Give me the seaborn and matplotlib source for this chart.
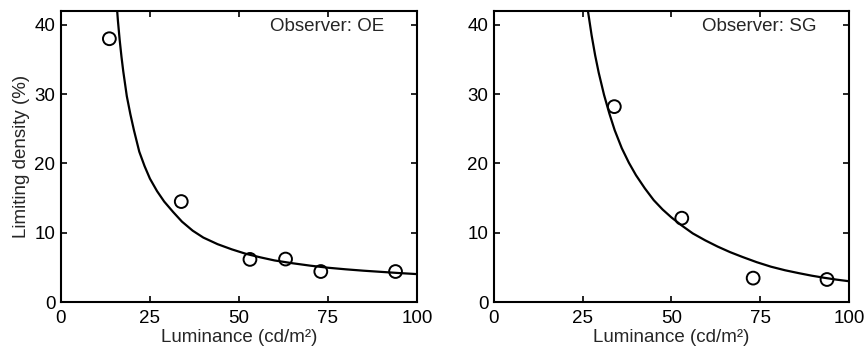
import matplotlib
matplotlib.use("Agg")
import matplotlib.pyplot as plt
import seaborn as sns
import pandas as pd

# Measured limiting density vs. luminance, one panel per observer
observers = ["OE", "SG"]

oe_luminance = [13.6, 33.8, 53.1, 63.1, 73.0, 94.0]
oe_density = [38.0, 14.5, 6.15, 6.2, 4.4, 4.4]

sg_luminance = [33.9, 52.9, 73.0, 93.8]
sg_density = [28.2, 12.1, 3.45, 3.25]

# Fitted curves
oe_fit_luminance = [15.5, 16.0, 16.5, 17.0, 17.5, 18.5, 19.5, 20.5, 22.0, 23.5,
                    25.0, 27.0, 29.0, 31.5, 34.0, 37.0, 40.0, 44.0, 48.0, 52.0,
                    56.0, 60.0, 65.0, 70.0, 75.0, 80.0, 85.0, 90.0, 95.0, 100.0]
oe_fit_density = [44.0, 40.6, 37.8, 35.4, 33.3, 29.7, 27.1, 24.8, 21.7, 19.6,
                  17.8, 16.0, 14.5, 13.0, 11.6, 10.3, 9.3, 8.35, 7.6, 6.95,
                  6.45, 6.0, 5.6, 5.25, 4.95, 4.72, 4.52, 4.35, 4.18, 4.03]

sg_fit_luminance = [26.0, 26.5, 27.5, 28.5, 29.5, 31.0, 32.5, 34.0, 36.0, 38.0,
                    40.0, 42.5, 45.0, 47.5, 50.0, 53.0, 56.0, 59.5, 63.0, 66.5,
                    70.0, 74.0, 78.0, 82.0, 86.0, 89.5, 93.0, 96.5, 100.0]
sg_fit_density = [43.8, 41.9, 38.5, 35.6, 33.1, 29.9, 27.2, 24.8, 22.2, 20.1,
                  18.3, 16.4, 14.7, 13.35, 12.2, 11.0, 9.9, 8.9, 8.0, 7.2,
                  6.5, 5.75, 5.1, 4.58, 4.15, 3.8, 3.5, 3.23, 3.0]

x_ticks = [0, 25, 50, 75, 100]
y_ticks = [0, 10, 20, 30, 40]

FS = 13.5

sns.set_style("ticks")
plt.rcParams["font.family"] = ["Liberation Sans", "DejaVu Sans"]
plt.rcParams["font.size"] = FS

fig = plt.figure(figsize=(8.66, 3.52), dpi=100)
ax_left = fig.add_axes([0.0704, 0.142, 0.411, 0.8267])
ax_right = fig.add_axes([0.5704, 0.142, 0.410, 0.8267])

panels = [
    (ax_left, "OE", oe_luminance, oe_density, oe_fit_luminance, oe_fit_density),
    (ax_right, "SG", sg_luminance, sg_density, sg_fit_luminance, sg_fit_density),
]

for ax, name, lum, dens, flum, fdens in panels:
    fit = pd.DataFrame({"lum": flum, "dens": fdens})
    pts = pd.DataFrame({"lum": lum, "dens": dens})
    sns.lineplot(data=fit, x="lum", y="dens", ax=ax, color="black",
                 linewidth=1.6, sort=False, estimator=None)
    sns.scatterplot(data=pts, x="lum", y="dens", ax=ax, s=85, marker="o",
                    facecolor="none", edgecolor="black", linewidth=1.4, zorder=3)
    ax.set_xlim(0, 100)
    ax.set_ylim(0, 42)
    ax.set_xticks(x_ticks)
    ax.set_yticks(y_ticks)
    ax.tick_params(direction="in", length=4, width=1.2, top=True, right=True,
                   labelsize=FS, colors="black", pad=4)
    ax.tick_params(axis="x", pad=6)
    for sp in ax.spines.values():
        sp.set_visible(True)
        sp.set_linewidth(1.5)
        sp.set_color("black")
    ax.set_xlabel("Luminance (cd/m²)", fontsize=FS, labelpad=1)
    ax.set_ylabel("")
    ax.text(90.8, 39.8, f"Observer: {name}", ha="right", va="center",
            fontsize=FS)

ax_left.set_ylabel("Limiting density (%)", fontsize=FS, labelpad=3)

fig.savefig("out.png", dpi=100)
